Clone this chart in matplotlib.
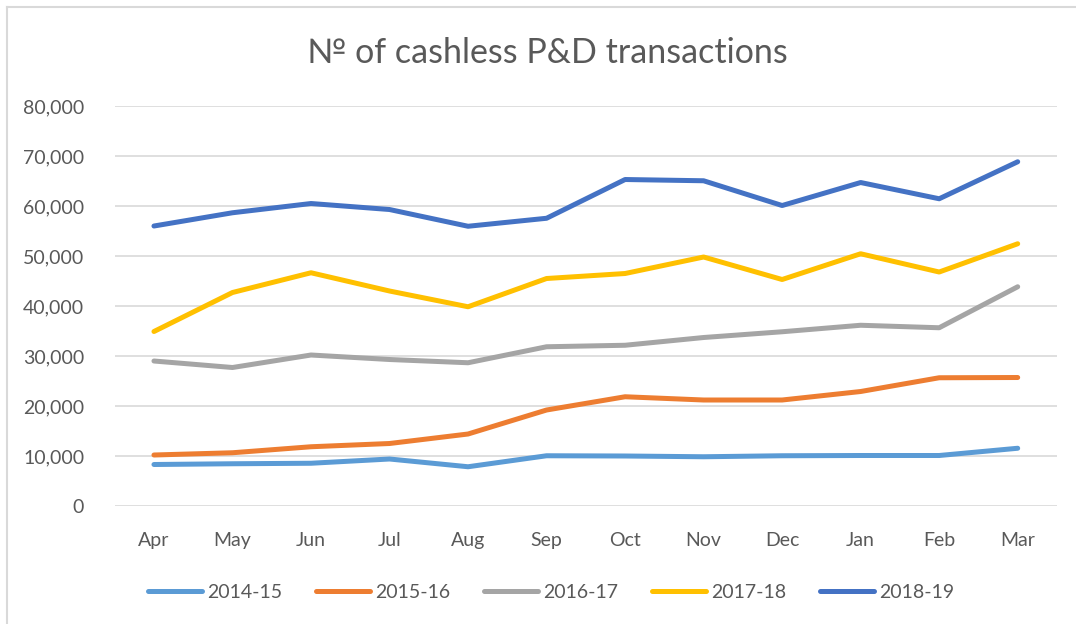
import matplotlib as mpl
from matplotlib import pyplot as plt
from matplotlib.lines import Line2D

mpl.rcParams["font.family"] = ["Lato", "DejaVu Sans"]

months = ["Apr", "May", "Jun", "Jul", "Aug", "Sep", "Oct", "Nov", "Dec", "Jan", "Feb", "Mar"]

fy_2014_15 = [8300, 8450, 8550, 9400, 7850, 10050, 10000, 9850, 10050, 10100, 10100, 11550]
fy_2015_16 = [10200, 10650, 11850, 12500, 14400, 19200, 21850, 21200, 21200, 22900, 25650, 25700]
fy_2016_17 = [29000, 27700, 30200, 29300, 28650, 31850, 32150, 33700, 34850, 36150, 35650, 43850]
fy_2017_18 = [34900, 42700, 46650, 43000, 39850, 45500, 46500, 49800, 45300, 50450, 46800, 52450]
fy_2018_19 = [56000, 58650, 60500, 59300, 55950, 57550, 65300, 65050, 60100, 64700, 61450, 68850]

series = [
    ("2014-15", fy_2014_15, "#5B9BD5"),
    ("2015-16", fy_2015_16, "#ED7D31"),
    ("2016-17", fy_2016_17, "#A5A5A5"),
    ("2017-18", fy_2017_18, "#FFC000"),
    ("2018-19", fy_2018_19, "#4472C4"),
]

text_col = "#595959"

fig = plt.figure(figsize=(10.76, 6.24), dpi=100)
ax = fig.add_axes([0.1066, 0.1891, 0.8757, 0.641])

x = range(len(months))
for label, vals, col in series:
    ax.plot(x, vals, color=col, lw=3.6, label=label, solid_capstyle="round", solid_joinstyle="round")

ax.set_xlim(-0.5, len(months) - 0.5)
ax.set_ylim(0, 80000)
ax.set_yticks(range(0, 80001, 10000))
ax.yaxis.set_major_formatter(mpl.ticker.StrMethodFormatter("{x:,.0f}"))
ax.set_xticks(list(x))
ax.set_xticklabels(months)
ax.grid(axis="y", color="#D9D9D9", lw=1.2)
ax.set_axisbelow(True)
for s in ax.spines.values():
    s.set_visible(False)
ax.tick_params(length=0, labelsize=14, colors=text_col)
ax.tick_params(axis="x", pad=18.5)
ax.tick_params(axis="y", pad=22)

fig.text(0.5085, 0.915, "№ of cashless P&D transactions", ha="center", va="center",
         fontsize=24.5, color=text_col)

fig.legend(loc="center", bbox_to_anchor=(0.512, 1 - 592 / 624), ncol=5, frameon=False,
           fontsize=14, handlelength=2.8, handletextpad=0.25, columnspacing=1.73,
           labelcolor=text_col)

# chart frame: only the top and left edges are visible in the original crop
frame_kw = dict(transform=fig.transFigure, color="#D9D9D9", lw=1.5)
fig.add_artist(Line2D([7 / 1076, 1.0], [1 - 7 / 624] * 2, **frame_kw))
fig.add_artist(Line2D([7 / 1076] * 2, [0.0, 1 - 7 / 624], **frame_kw))

fig.savefig("out.png", dpi=100)
